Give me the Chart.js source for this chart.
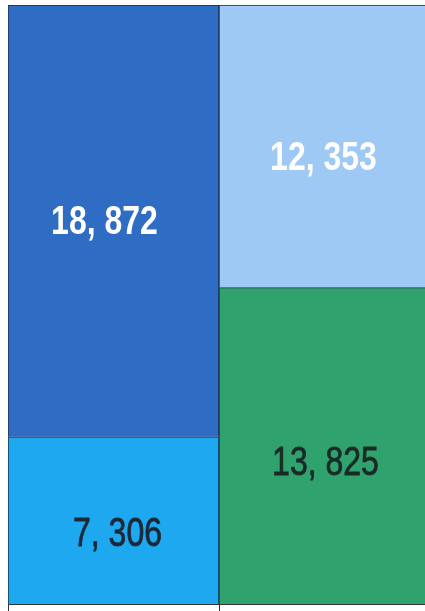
<!DOCTYPE html>
<html>
<head>
<meta charset="utf-8">
<script src="https://cdn.jsdelivr.net/npm/chart.js@4/dist/chart.umd.min.js"></script>
<style>
    html, body { margin: 0; padding: 0; background: #fff; overflow: hidden; }
    #wrap { width: 430px; height: 611px; }
</style>
</head>
<body>
<div id="wrap"><canvas id="myChart"></canvas></div>
<script>
const categories = ['', ''];
const bottomValues = [7306, 13825];
const topValues = [18872, 12353];
const bottomColors = ['#1ea8f0', '#2fa26e'];
const topColors = ['#2f6cc3', '#9ec9f4'];
const bottomTextColors = ['#1b2838', '#1b2a26'];
const topTextColors = ['#ffffff', '#ffffff'];
// small nudges of the value labels from the segment centre
const bottomNudge = [[4, 14], [1, 17]];
const topNudge = [[-9, 1], [-1, 12]];

function fmt(v) {
    return v.toLocaleString('en-US').replace(',', ', ');
}

const valueLabels = {
    id: 'valueLabels',
    afterDatasetsDraw(chart) {
        const ctx = chart.ctx;
        chart.data.datasets.forEach((ds, di) => {
            const meta = chart.getDatasetMeta(di);
            meta.data.forEach((bar, i) => {
                const nudge = ds.nudge[i];
                const cy = (bar.y + bar.base) / 2;
                ctx.save();
                ctx.font = ds.textWeight + " 40px 'Liberation Sans', Arial, sans-serif";
                ctx.textAlign = 'center';
                ctx.textBaseline = 'middle';
                ctx.fillStyle = ds.textColors[i];
                ctx.translate(bar.x + nudge[0], cy + nudge[1]);
                ctx.scale(0.8, 1);   // condensed look of the original face
                ctx.fillText(fmt(ds.data[i]), 0, 1);
                if (ds.textWeight === 'normal') {
                    // slightly heavier than the regular face
                    ctx.strokeStyle = ds.textColors[i];
                    ctx.lineWidth = 0.8;
                    ctx.strokeText(fmt(ds.data[i]), 0, 1);
                }
                ctx.restore();
            });
        });
    }
};

new Chart(document.getElementById('myChart'), {
    type: 'bar',
    data: {
        labels: categories,
        datasets: [
            {
                data: bottomValues,
                backgroundColor: bottomColors,
                borderColor: '#1c2a44',
                borderWidth: 1,
                textColors: bottomTextColors,
                textWeight: 'normal',
                nudge: bottomNudge,
            },
            {
                data: topValues,
                backgroundColor: topColors,
                borderColor: '#1c2a44',
                borderWidth: 1,
                textColors: topTextColors,
                textWeight: 'bold',
                nudge: topNudge,
            },
        ]
    },
    options: {
        responsive: true,
        maintainAspectRatio: false,
        animation: false,
        layout: { padding: { left: 8, top: 5, right: 0, bottom: 0 } },
        datasets: { bar: { barPercentage: 1, categoryPercentage: 1 } },
        plugins: { legend: { display: false }, tooltip: { enabled: false } },
        scales: {
            x: {
                stacked: true,
                border: { display: true, color: '#333', width: 1 },
                grid: { drawOnChartArea: false, drawTicks: true, tickLength: 7, color: '#333', offset: true },
                ticks: { display: false }
            },
            y: {
                stacked: true,
                display: false,
                min: 0,
                max: 26178
            }
        }
    },
    plugins: [valueLabels]
});
</script>
</body>
</html>
